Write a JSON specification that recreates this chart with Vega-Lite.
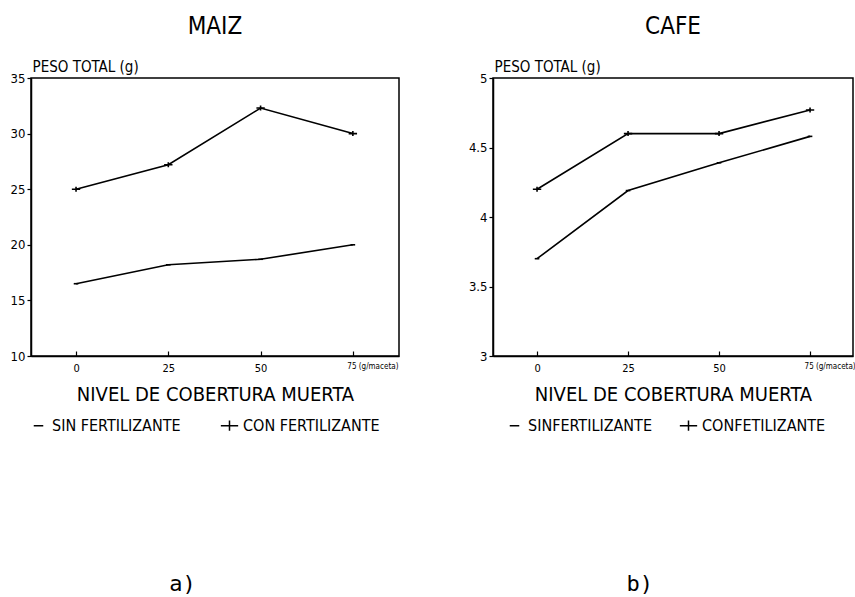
{
  "$schema": "https://vega.github.io/schema/vega-lite/v6.json",
  "background": "white",
  "padding": {"left": 9, "top": 14, "right": 0, "bottom": 0},
  "datasets": {
    "maiz": [
      {"nivel": 0, "serie": "SIN FERTILIZANTE", "peso": 16.5},
      {"nivel": 25, "serie": "SIN FERTILIZANTE", "peso": 18.2},
      {"nivel": 50, "serie": "SIN FERTILIZANTE", "peso": 18.7},
      {"nivel": 75, "serie": "SIN FERTILIZANTE", "peso": 20.0},
      {"nivel": 0, "serie": "CON FERTILIZANTE", "peso": 25.0},
      {"nivel": 25, "serie": "CON FERTILIZANTE", "peso": 27.2},
      {"nivel": 50, "serie": "CON FERTILIZANTE", "peso": 32.3},
      {"nivel": 75, "serie": "CON FERTILIZANTE", "peso": 30.0}
    ],
    "cafe": [
      {"nivel": 0, "serie": "SIN FERTILIZANTE", "peso": 3.7},
      {"nivel": 25, "serie": "SIN FERTILIZANTE", "peso": 4.19},
      {"nivel": 50, "serie": "SIN FERTILIZANTE", "peso": 4.39},
      {"nivel": 75, "serie": "SIN FERTILIZANTE", "peso": 4.58},
      {"nivel": 0, "serie": "CON FERTILIZANTE", "peso": 4.2},
      {"nivel": 25, "serie": "CON FERTILIZANTE", "peso": 4.6},
      {"nivel": 50, "serie": "CON FERTILIZANTE", "peso": 4.6},
      {"nivel": 75, "serie": "CON FERTILIZANTE", "peso": 4.77}
    ]
  },
  "hconcat": [
    {
      "title": {"text": "a)", "orient": "bottom", "anchor": "middle", "offset": 140, "baseline": "top", "font": "DejaVu Sans Mono", "fontSize": 22, "fontWeight": "normal", "dx": -22},
      "vconcat": [
        {
          "title": {"text": "MAIZ", "fontSize": 24, "offset": 20},
          "width": 368,
          "height": 278,
          "data": {"name": "maiz"},
          "encoding": {
            "x": {
              "field": "nivel", "type": "quantitative",
              "scale": {"domain": [-12.2, 87.5], "nice": false, "zero": false},
              "axis": {
                "values": [0, 25, 50, 75],
                "title": "NIVEL DE COBERTURA MUERTA",
                "labelExpr": "datum.value == 75 ? '75 (g/maceta)' : datum.label",
                "labelAlign": {"condition": {"test": "datum.value == 75", "value": "left"}, "value": "center"},
                "labelFontSize": {"condition": {"test": "datum.value == 75", "value": 8}, "value": 11},
                "labelOffset": {"condition": {"test": "datum.value == 75", "value": -6}, "value": 0},
                "tickSize": -5,
                "labelPadding": 11,
                "titlePadding": 11
              }
            },
            "y": {
              "field": "peso", "type": "quantitative",
              "scale": {"domain": [10, 35], "nice": false, "zero": false},
              "axis": {
                "values": [10, 15, 20, 25, 30, 35],
                "title": "PESO TOTAL (g)",
                "titleAngle": 0, "titleAlign": "left", "titleBaseline": "alphabetic",
                "titleX": 1, "titleY": -7
              }
            }
          },
          "layer": [
            {"mark": {"type": "line", "color": "#000", "strokeWidth": 1.6}, "encoding": {"detail": {"field": "serie"}}},
            {
              "mark": {"type": "point", "color": "#000", "filled": false, "strokeWidth": 1.6, "opacity": 1},
              "encoding": {
                "size": {"field": "serie", "type": "nominal", "scale": {"range": [70, 70]}, "legend": null},
                "shape": {
                  "field": "serie", "type": "nominal",
                  "scale": {"domain": ["SIN FERTILIZANTE", "CON FERTILIZANTE"], "range": ["M-0.55,0H0.55", "M-1,0H1M0,-0.6V0.6"]},
                  "legend": {"title": null, "orient": "none", "direction": "horizontal", "legendX": -2, "legendY": 338, "symbolSize": 300, "columnPadding": 36}
                }
              }
            }
          ]
        }
      ]
    },
    {
      "title": {"text": "b)", "orient": "bottom", "anchor": "middle", "offset": 140, "baseline": "top", "font": "DejaVu Sans Mono", "fontSize": 22, "fontWeight": "normal", "dx": -22},
      "vconcat": [
        {
          "title": {"text": "CAFE", "fontSize": 24, "offset": 20},
          "width": 360,
          "height": 278,
          "data": {"name": "cafe"},
          "encoding": {
            "x": {
              "field": "nivel", "type": "quantitative",
              "scale": {"domain": [-12.1, 86.8], "nice": false, "zero": false},
              "axis": {
                "values": [0, 25, 50, 75],
                "title": "NIVEL DE COBERTURA MUERTA",
                "labelExpr": "datum.value == 75 ? '75 (g/maceta)' : datum.label",
                "labelAlign": {"condition": {"test": "datum.value == 75", "value": "left"}, "value": "center"},
                "labelFontSize": {"condition": {"test": "datum.value == 75", "value": 8}, "value": 11},
                "labelOffset": {"condition": {"test": "datum.value == 75", "value": -6}, "value": 0},
                "tickSize": -5,
                "labelPadding": 11,
                "titlePadding": 11
              }
            },
            "y": {
              "field": "peso", "type": "quantitative",
              "scale": {"domain": [3, 5], "nice": false, "zero": false},
              "axis": {
                "values": [3, 3.5, 4, 4.5, 5],
                "format": ".1~f",
                "title": "PESO TOTAL (g)",
                "titleAngle": 0, "titleAlign": "left", "titleBaseline": "alphabetic",
                "titleX": 1, "titleY": -7
              }
            }
          },
          "layer": [
            {"mark": {"type": "line", "color": "#000", "strokeWidth": 1.6}, "encoding": {"detail": {"field": "serie"}}},
            {
              "mark": {"type": "point", "color": "#000", "filled": false, "strokeWidth": 1.6, "opacity": 1},
              "encoding": {
                "size": {"field": "serie", "type": "nominal", "scale": {"range": [70, 70]}, "legend": null},
                "shape": {
                  "field": "serie", "type": "nominal",
                  "scale": {"domain": ["SIN FERTILIZANTE", "CON FERTILIZANTE"], "range": ["M-0.55,0H0.55", "M-1,0H1M0,-0.6V0.6"]},
                  "legend": {"title": null, "orient": "none", "direction": "horizontal", "legendX": 12, "legendY": 338, "symbolSize": 300, "columnPadding": 24,
                    "labelExpr": "datum.label == 'SIN FERTILIZANTE' ? 'SINFERTILIZANTE' : 'CONFETILIZANTE'"}
                }
              }
            }
          ]
        }
      ]
    }
  ],
  "spacing": 67,
  "resolve": {
    "scale": {"x": "independent", "y": "independent", "shape": "independent", "size": "independent"},
    "legend": {"shape": "independent"}
  },
  "config": {
    "font": "'Liberation Sans Narrow', 'DejaVu Sans Condensed', sans-serif",
    "view": {"stroke": "#000", "strokeWidth": 1.5},
    "axis": {
      "grid": false,
      "domainColor": "#000", "domainWidth": 1.5,
      "tickColor": "#000", "tickWidth": 1.2, "tickSize": 4,
      "labelColor": "#000", "labelFontSize": 12, "labelPadding": 2,
      "titleColor": "#000", "titleFontWeight": "normal"
    },
    "axisX": {"titleFontSize": 20},
    "axisY": {"titleFontSize": 15, "labelFontSize": 13},
    "legend": {
      "labelFontSize": 16, "labelColor": "#000", "labelOffset": 4,
      "symbolStrokeColor": "#000", "symbolStrokeWidth": 1.5, "symbolFillColor": "transparent"
    },
    "title": {"color": "#000", "fontWeight": "normal"}
  }
}
